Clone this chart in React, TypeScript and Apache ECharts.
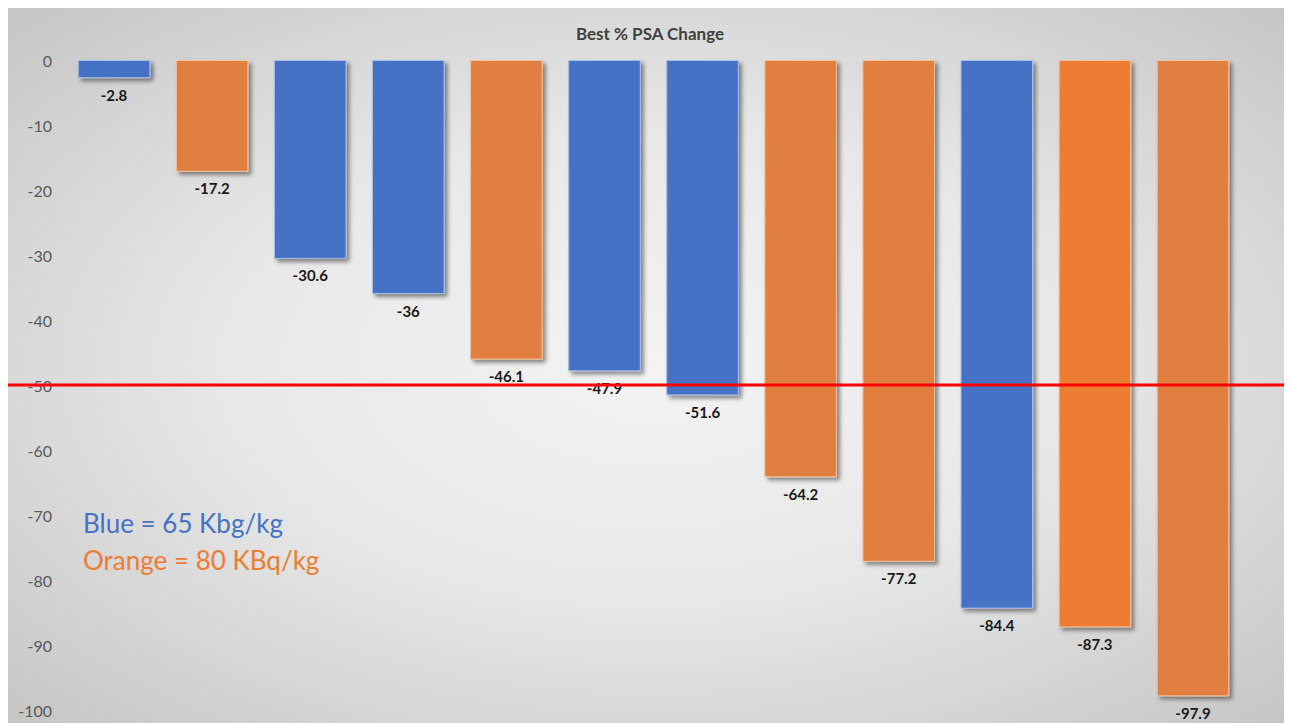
import React, { useEffect, useRef } from "react";
import * as echarts from "echarts";

const categories = ["1", "2", "3", "4", "5", "6", "7", "8", "9", "10", "11", "12"];
const psaChange = [-2.8, -17.2, -30.6, -36, -46.1, -47.9, -51.6, -64.2, -77.2, -84.4, -87.3, -97.9];
const doseGroup = ["B", "O", "B", "B", "O", "B", "B", "O", "O", "B", "O", "O"];
const thresholdValue = -50;
const titleText = "Best % PSA Change";
const noteBlue = "Blue = 65 Kbg/kg";
const noteOrange = "Orange = 80 KBq/kg";

const BLUE = "#4472C4";
const ORANGE = "#E07F3F";
const ORANGE_STRONG = "#ED7D31";

export default function App() {
  const ref = useRef<HTMLDivElement>(null);
  useEffect(() => {
    if (!ref.current) return;
    const chart = echarts.init(ref.current, undefined, { renderer: "svg" });
    const font = "Lato, 'Open Sans', sans-serif";
    const data = psaChange.map((v, i) => {
      const blue = doseGroup[i] === "B";
      const strong = i === 10;
      return {
        value: v,
        itemStyle: {
          color: blue ? BLUE : strong ? ORANGE_STRONG : ORANGE,
          borderColor: blue ? "#a9bde6" : "#f3c4a2",
          borderWidth: 1,
        },
      };
    });
    chart.setOption({
      animation: false,
      textStyle: { fontFamily: font },
      title: {
        text: titleText,
        left: "center",
        top: 12,
        textStyle: { fontFamily: font, fontSize: 17, fontWeight: "bold", color: "#404040" },
      },
      grid: { left: 57, right: 50, top: 52, bottom: 13, containLabel: false },
      xAxis: {
        type: "category",
        data: categories,
        position: "top",
        axisLine: { show: false },
        axisTick: { show: false },
        axisLabel: { show: false },
      },
      yAxis: {
        type: "value",
        min: -100,
        max: 0,
        interval: 10,
        axisLine: { show: false },
        axisTick: { show: false },
        axisLabel: { color: "#595959", fontSize: 16, margin: 13, fontFamily: font },
        splitLine: { lineStyle: { color: "#a0a0a0", width: 1.2 } },
      },
      series: [
        {
          type: "bar",
          data,
          barCategoryGap: "26%",
          itemStyle: {
            shadowColor: "rgba(0,0,0,0.45)",
            shadowBlur: 4,
            shadowOffsetX: 3,
            shadowOffsetY: 3,
          },
          label: {
            show: true,
            position: "bottom",
            distance: 9,
            fontSize: 15,
            fontWeight: "bold",
            color: "#1a1a1a",
            fontFamily: font,
          },
        },
      ],
    });
    const yRed = chart.convertToPixel({ yAxisIndex: 0 }, thresholdValue) as number;
    const w = chart.getWidth();
    const h = chart.getHeight();
    chart.setOption({
      graphic: [
        {
          type: "group",
          z: -10,
          silent: true,
          x: 0,
          y: 0,
          scaleY: h / w,
          children: [
            {
              type: "rect",
              shape: { x: 0, y: 0, width: w, height: w },
              style: {
                fill: {
                  type: "radial",
                  x: 0.5,
                  y: 0.5,
                  r: 0.72,
                  colorStops: [
                    { offset: 0, color: "#f3f3f3" },
                    { offset: 0.45, color: "#e8e8e8" },
                    { offset: 1, color: "#c4c4c4" },
                  ],
                },
              },
            },
          ],
        },
        {
          type: "rect",
          z: -9,
          silent: true,
          shape: { x: 0.5, y: 0.5, width: w + 2, height: h - 1 },
          style: { fill: "none", stroke: "#bdbdbd", lineWidth: 1 },
        },
        {
          type: "line",
          z: 100,
          silent: true,
          shape: { x1: -2, y1: yRed, x2: w, y2: yRed },
          style: { stroke: "#ff0000", lineWidth: 3 },
        },
        {
          type: "text",
          z: 100,
          left: 75,
          top: 502,
          style: { text: noteBlue, fill: BLUE, font: `26px ${font}` },
        },
        {
          type: "text",
          z: 100,
          left: 75,
          top: 539,
          style: { text: noteOrange, fill: ORANGE_STRONG, font: `26px ${font}` },
        },
      ],
    });
    return () => chart.dispose();
  }, []);
  return <div ref={ref} style={{ width: 1284, height: 715 }} />;
}
